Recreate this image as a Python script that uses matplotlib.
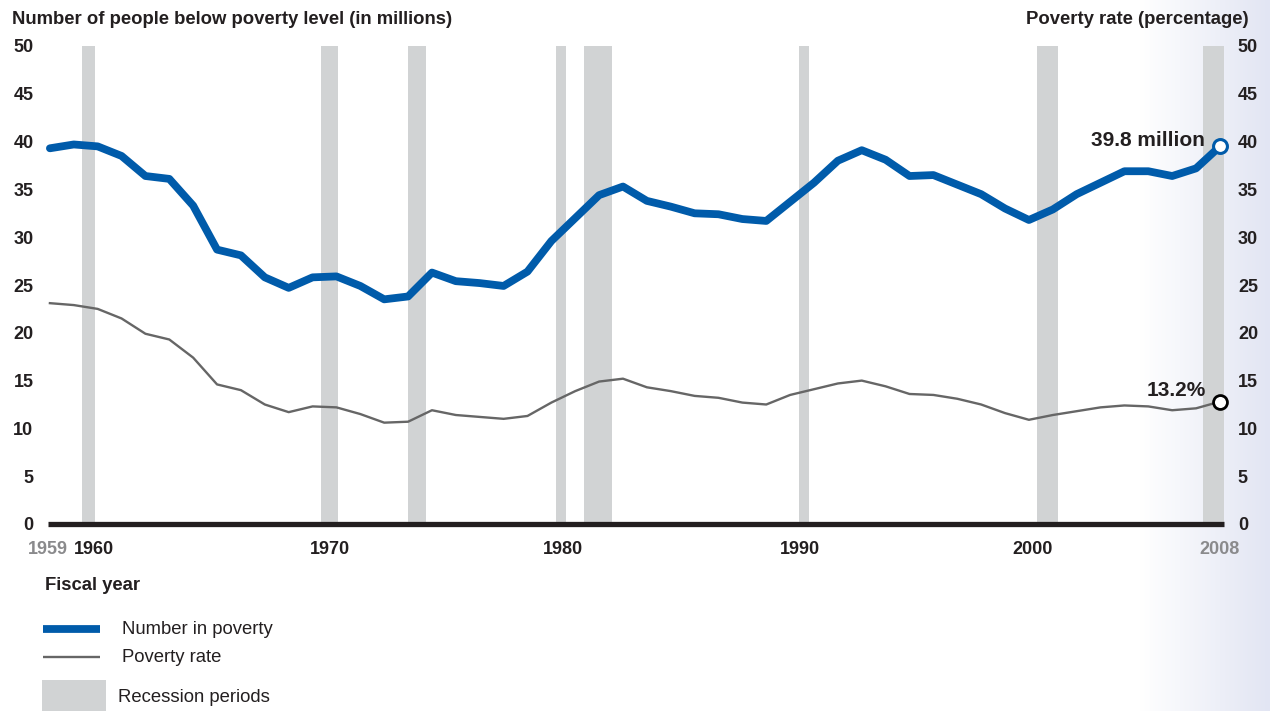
import numpy as np
import matplotlib
matplotlib.use("Agg")
import matplotlib.pyplot as plt
from matplotlib.lines import Line2D
from matplotlib.patches import Rectangle

plt.rcParams['font.family'] = ['Liberation Sans', 'DejaVu Sans']

# data
years = list(range(1959, 2009))
number_in_poverty = [39.3, 39.7, 39.5, 38.5, 36.4, 36.1, 33.3, 28.7, 28.1, 25.8,
                     24.7, 25.8, 25.9, 24.9, 23.5, 23.8, 26.3, 25.4, 25.2, 24.9,
                     26.4, 29.6, 32.0, 34.4, 35.3, 33.8, 33.2, 32.5, 32.4, 31.9,
                     31.7, 33.7, 35.7, 38.0, 39.1, 38.1, 36.4, 36.5, 35.5, 34.5,
                     33.0, 31.8, 32.9, 34.5, 35.7, 36.9, 36.9, 36.4, 37.2, 39.5]
poverty_rate = [23.1, 22.9, 22.5, 21.5, 19.9, 19.3, 17.4, 14.6, 14.0, 12.5,
                11.7, 12.3, 12.2, 11.5, 10.6, 10.7, 11.9, 11.4, 11.2, 11.0,
                11.3, 12.7, 13.9, 14.9, 15.2, 14.3, 13.9, 13.4, 13.2, 12.7,
                12.5, 13.5, 14.1, 14.7, 15.0, 14.4, 13.6, 13.5, 13.1, 12.5,
                11.6, 10.9, 11.4, 11.8, 12.2, 12.4, 12.3, 11.9, 12.1, 12.8]
rec_start = [1960.34, 1970.34, 1973.98, 1980.21, 1981.38, 1990.38, 2000.34, 2007.28]
rec_end = [1960.88, 1971.05, 1974.77, 1980.63, 1982.56, 1990.80, 2001.22, 2008.16]
tick_years = [1959, 1960, 1970, 1980, 1990, 2000, 2008]
yticks = [0, 5, 10, 15, 20, 25, 30, 35, 40, 45, 50]

blue = '#005baa'
gray = '#666666'
rec_col = '#d1d3d4'
txt = '#231f20'

W, H = 1270, 711
fig = plt.figure(figsize=(W / 100, H / 100), dpi=100)

# light gradient on the right edge
bg = fig.add_axes([0, 0, 1, 1], zorder=-10)
xs = np.linspace(0, 1, W)
t = np.clip((xs - 1140 / W) / (1 - 1140 / W), 0, 1)
c0 = np.array([1.0, 1.0, 1.0])
c1 = np.array([0xe2, 0xe5, 0xf3]) / 255
grad = c0[None, :] * (1 - t[:, None]) + c1[None, :] * t[:, None]
bg.imshow(grad[None, :, :], aspect='auto', extent=[0, 1, 0, 1])
bg.set_axis_off()


def fx(px):
    return px / W


def fy(py):
    return 1 - py / H


ax = fig.add_axes([fx(48), fy(524), 1176 / W, 478 / H])
ax.patch.set_alpha(0)
ax.set_xlim(1958.96, 2008.17)
ax.set_ylim(0, 50)
for s in ax.spines.values():
    s.set_visible(False)

for s, e in zip(rec_start, rec_end):
    ax.axvspan(s, e, color=rec_col, lw=0, zorder=1)

ax.axhline(0, color=txt, lw=3.8, zorder=3, clip_on=False,
           solid_capstyle='butt')

ax.plot(years, poverty_rate, color=gray, lw=1.7, zorder=4, clip_on=False)
ax.plot(years, number_in_poverty, color=blue, lw=5.6, zorder=5,
        solid_capstyle='round', clip_on=False)
ax.plot(years[-1], number_in_poverty[-1], 'o', ms=10, mfc='white', mec=blue,
        mew=2.2, zorder=6, clip_on=False)
ax.plot(years[-1], poverty_rate[-1], 'o', ms=10, mfc='white', mec='black',
        mew=2.0, zorder=6, clip_on=False)

ax.annotate('39.8 million', (years[-1], number_in_poverty[-1]),
            xytext=(-11, 4.5), textcoords='offset points', ha='right',
            va='center', fontsize=15, fontweight='bold', color=txt)
ax.annotate('13.2%', (years[-1], poverty_rate[-1]),
            xytext=(-10, 8), textcoords='offset points', ha='right',
            va='center', fontsize=15, fontweight='bold', color=txt)

ax.set_yticks(yticks)
ax.tick_params(axis='y', length=0, pad=10.5, labelsize=13, labelcolor=txt)
for lab in ax.get_yticklabels():
    lab.set_fontweight('bold')

ax2 = ax.twinx()
ax2.set_ylim(0, 50)
ax2.set_yticks(yticks)
for s in ax2.spines.values():
    s.set_visible(False)
ax2.tick_params(axis='y', length=0, pad=10, labelsize=13, labelcolor=txt)
for lab in ax2.get_yticklabels():
    lab.set_fontweight('bold')

# year labels, nudged like the reference
nudge = [-0.08, 0.84, 0.72, 0.5, 0.42, 0.17, 0.0]
ax.set_xticks([y + n for y, n in zip(tick_years, nudge)])
ax.set_xticklabels([str(y) for y in tick_years])
ax.tick_params(axis='x', length=0, pad=12, labelsize=13)
for i, lab in enumerate(ax.get_xticklabels()):
    lab.set_fontweight('bold')
    lab.set_color('#8a8a8c' if i in (0, len(tick_years) - 1) else txt)

fig.text(fx(12), fy(19), 'Number of people below poverty level (in millions)',
         fontsize=13.3, fontweight='bold', color=txt, va='center', ha='left')
fig.text(fx(1249), fy(19), 'Poverty rate (percentage)',
         fontsize=13.3, fontweight='bold', color=txt, va='center', ha='right')
fig.text(fx(45), fy(585), 'Fiscal year', fontsize=13.3, fontweight='bold',
         color=txt, va='center', ha='left')

# legend
fig.add_artist(Line2D([fx(43), fx(100)], [fy(629), fy(629)], color=blue,
                      lw=5.6, solid_capstyle='butt',
                      transform=fig.transFigure))
fig.text(fx(122), fy(629), 'Number in poverty', fontsize=13.3, color=txt,
         va='center', ha='left')
fig.add_artist(Line2D([fx(43), fx(100)], [fy(657), fy(657)], color=gray,
                      lw=1.7, solid_capstyle='butt',
                      transform=fig.transFigure))
fig.text(fx(122), fy(657), 'Poverty rate', fontsize=13.3, color=txt,
         va='center', ha='left')
fig.add_artist(Rectangle((fx(42), fy(711)), fx(106) - fx(42), fy(680) - fy(711),
                         color=rec_col, lw=0, transform=fig.transFigure))
fig.text(fx(118), fy(697), 'Recession periods', fontsize=13.3, color=txt,
         va='center', ha='left')

fig.savefig('out.png', dpi=100)
